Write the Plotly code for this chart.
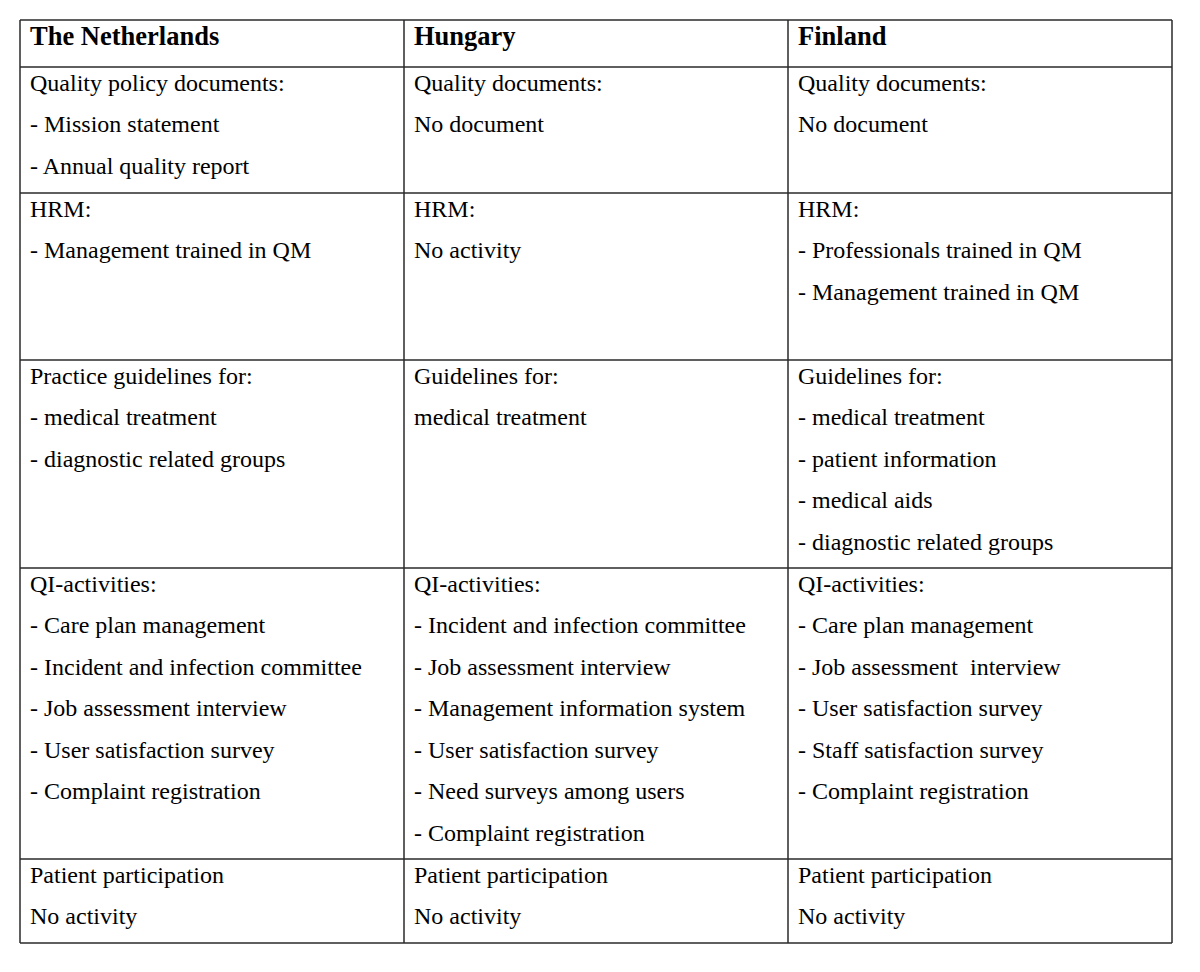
import plotly.graph_objects as go

# ---- table content ----
countries = ["The Netherlands", "Hungary", "Finland"]

netherlands = [
    ["Quality policy documents:", "- Mission statement", "- Annual quality report"],
    ["HRM:", "- Management trained in QM"],
    ["Practice guidelines for:", "- medical treatment", "- diagnostic related groups"],
    ["QI-activities:", "- Care plan management", "- Incident and infection committee",
     "- Job assessment interview", "- User satisfaction survey", "- Complaint registration"],
    ["Patient participation", "No activity"],
]

hungary = [
    ["Quality documents:", "No document"],
    ["HRM:", "No activity"],
    ["Guidelines for:", "medical treatment"],
    ["QI-activities:", "- Incident and infection committee", "- Job assessment interview",
     "- Management information system", "- User satisfaction survey",
     "- Need surveys among users", "- Complaint registration"],
    ["Patient participation", "No activity"],
]

finland = [
    ["Quality documents:", "No document"],
    ["HRM:", "- Professionals trained in QM", "- Management trained in QM"],
    ["Guidelines for:", "- medical treatment", "- patient information", "- medical aids",
     "- diagnostic related groups"],
    ["QI-activities:", "- Care plan management", "- Job assessment\u00a0 interview",
     "- User satisfaction survey", "- Staff satisfaction survey", "- Complaint registration"],
    ["Patient participation", "No activity"],
]

columns = [netherlands, hungary, finland]

# ---- layout geometry (page pixels) ----
W, H = 1200, 972
PAGE_OFF = 8  # browser body margin
col_edges = [20, 404, 788, 1172]
row_edges = [20, 67, 193, 360, 568, 859, 943]
pad_x = 8
line_step = 41.5
first_base = 24
body_size = 24
head_size = 26.5
font_family = "Liberation Serif"
line_color = "#2a2a2a"

fig = go.Figure()
shapes = []
for y in row_edges:
    shapes.append(dict(type="line", x0=col_edges[0], x1=col_edges[-1], y0=y, y1=y,
                       xref="x", yref="y", line=dict(color=line_color, width=1.5)))
for x in col_edges:
    shapes.append(dict(type="line", x0=x, x1=x, y0=row_edges[0], y1=row_edges[-1],
                       xref="x", yref="y", line=dict(color=line_color, width=1.5)))

annotations = []
off = lambda s: 0.34 * s  # baseline -> middle of glyph box

for ci, name in enumerate(countries):
    annotations.append(dict(
        x=col_edges[ci] + pad_x, y=row_edges[0] + 25 - off(head_size),
        xref="x", yref="y", text="<b>" + name + "</b>", showarrow=False,
        xanchor="left", yanchor="middle",
        font=dict(family=font_family, size=head_size, color="#000")))
    for ri, lines in enumerate(columns[ci]):
        top = row_edges[ri + 1]
        for li, txt in enumerate(lines):
            base = top + first_base + li * line_step
            annotations.append(dict(
                x=col_edges[ci] + pad_x, y=base - off(body_size),
                xref="x", yref="y", text=txt, showarrow=False,
                xanchor="left", yanchor="middle",
                font=dict(family=font_family, size=body_size, color="#000")))

fig.update_layout(
    width=W - PAGE_OFF, height=H - PAGE_OFF,
    margin=dict(l=0, r=0, t=0, b=0),
    paper_bgcolor="white", plot_bgcolor="white",
    xaxis=dict(range=[PAGE_OFF, W], visible=False, fixedrange=True),
    yaxis=dict(range=[H, PAGE_OFF], visible=False, fixedrange=True),
    shapes=shapes, annotations=annotations, showlegend=False,
)

fig.write_html("out.html", config={"displayModeBar": False})
